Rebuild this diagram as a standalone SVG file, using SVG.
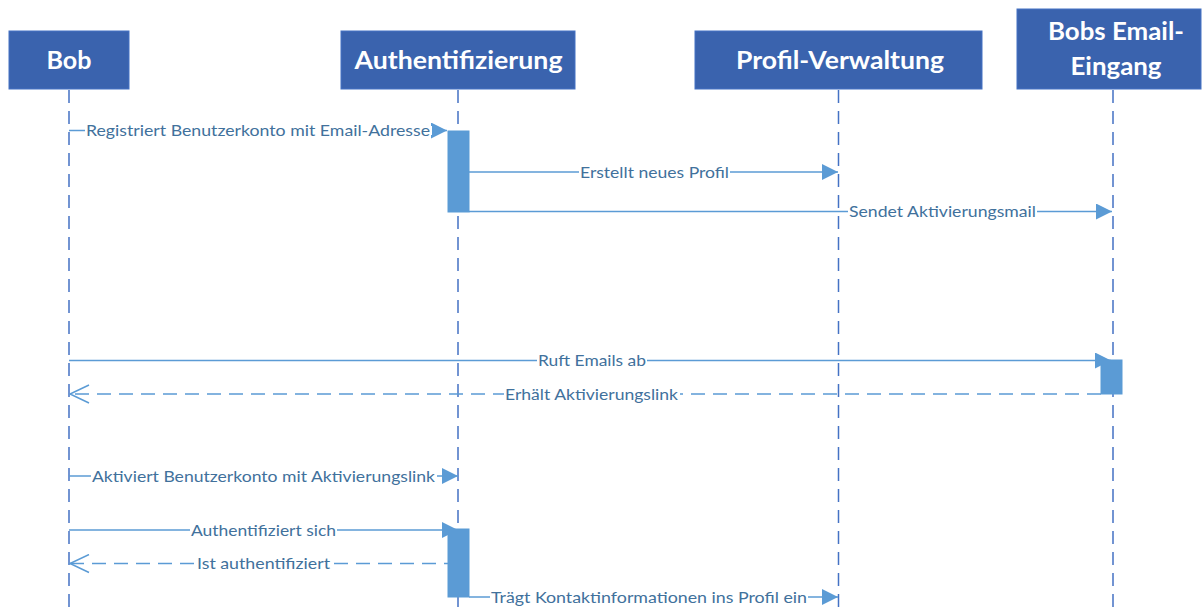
<svg xmlns="http://www.w3.org/2000/svg" width="1204" height="611" viewBox="0 0 1204 611">
<style>
.box{fill:#3A63AE;stroke:#4472C4;stroke-width:1}
.hdr{font-family:Lato,"Open Sans","Liberation Sans",sans-serif;font-weight:bold;font-size:24.5px;fill:#FFFFFF;text-anchor:middle}
.life{stroke:#4472C4;stroke-width:1.5;stroke-dasharray:13 8;fill:none}
.bar{fill:#5B9BD5;stroke:#5B9BD5;stroke-width:1}
.msg{stroke:#5B9BD5;stroke-width:1.5;fill:none}
.ret{stroke:#5B9BD5;stroke-width:1.5;fill:none;stroke-dasharray:14 8}
.lbl{font-family:Lato,"Open Sans","Liberation Sans",sans-serif;font-size:15px;fill:#41719C}
.bg{fill:#FFFFFF}
</style>
<defs>
<marker id="fill" markerUnits="userSpaceOnUse" viewBox="0 0 16 16" refX="16" refY="8" markerWidth="16" markerHeight="16" orient="auto">
<path d="M0,0 L16,8 L0,16 z" fill="#5B9BD5" stroke="none"/>
</marker>
<marker id="open" markerUnits="userSpaceOnUse" viewBox="-1 -1 22 20" refX="19" refY="9" markerWidth="22" markerHeight="20" orient="auto">
<path d="M0,0 L19,9 L0,18" fill="none" stroke="#5B9BD5" stroke-width="1.5" stroke-dasharray="none"/>
</marker>
</defs>
<rect width="1204" height="611" fill="#FFFFFF"/>

<g id="lifelines">
<line class="life" x1="69" y1="90" x2="69" y2="611"/>
<line class="life" x1="458" y1="90" x2="458" y2="611"/>
<line class="life" x1="838.5" y1="90" x2="838.5" y2="611"/>
<line class="life" x1="1113" y1="90" x2="1113" y2="611"/>
</g>

<g id="node-bob">
<rect class="box" x="9" y="31" width="120" height="58"/>
<text class="hdr" x="69" y="69" textLength="45" lengthAdjust="spacingAndGlyphs">Bob</text>
</g>
<g id="node-auth">
<rect class="box" x="341" y="31" width="234" height="58"/>
<text class="hdr" x="458.5" y="69" textLength="208" lengthAdjust="spacingAndGlyphs">Authentifizierung</text>
</g>
<g id="node-profil">
<rect class="box" x="695" y="31" width="287" height="58"/>
<text class="hdr" x="840" y="69" textLength="208" lengthAdjust="spacingAndGlyphs">Profil-Verwaltung</text>
</g>
<g id="node-email">
<rect class="box" x="1017" y="9" width="184" height="80"/>
<text class="hdr" x="1116" y="39.5" textLength="136" lengthAdjust="spacingAndGlyphs">Bobs Email-</text>
<text class="hdr" x="1116" y="75" textLength="91" lengthAdjust="spacingAndGlyphs">Eingang</text>
</g>

<g id="activations">
<rect class="bar" x="448" y="131" width="21" height="81"/>
<rect class="bar" x="1101" y="360" width="21" height="34"/>
<rect class="bar" x="448" y="529" width="21" height="68"/>
</g>

<g id="connectors">
<line class="msg" x1="69" y1="130.5" x2="447" y2="130.5" marker-end="url(#fill)"/>
<rect class="bg" x="85" y="126" width="347" height="9"/>
<text class="lbl" x="86" y="136" textLength="344" lengthAdjust="spacingAndGlyphs">Registriert Benutzerkonto mit Email-Adresse</text>

<line class="msg" x1="469" y1="172" x2="838" y2="172" marker-end="url(#fill)"/>
<rect class="bg" x="579" y="167.5" width="151" height="9"/>
<text class="lbl" x="580" y="177.5" textLength="149" lengthAdjust="spacingAndGlyphs">Erstellt neues Profil</text>

<line class="msg" x1="469" y1="211.5" x2="1112" y2="211.5" marker-end="url(#fill)"/>
<rect class="bg" x="848" y="207" width="189" height="9"/>
<text class="lbl" x="849" y="217" textLength="187" lengthAdjust="spacingAndGlyphs">Sendet Aktivierungsmail</text>

<line class="msg" x1="69" y1="360.5" x2="1111" y2="360.5" marker-end="url(#fill)"/>
<rect class="bg" x="537" y="356" width="110" height="9"/>
<text class="lbl" x="538" y="366" textLength="108" lengthAdjust="spacingAndGlyphs">Ruft Emails ab</text>

<line class="ret" x1="1101" y1="394" x2="70" y2="394" marker-end="url(#open)"/>
<rect class="bg" x="504" y="389.5" width="176" height="9"/>
<text class="lbl" x="505" y="399.5" textLength="173" lengthAdjust="spacingAndGlyphs">Erhält Aktivierungslink</text>

<line class="msg" x1="69" y1="476" x2="458" y2="476" marker-end="url(#fill)"/>
<rect class="bg" x="91" y="471.5" width="346" height="9"/>
<text class="lbl" x="92" y="481.5" textLength="343" lengthAdjust="spacingAndGlyphs">Aktiviert Benutzerkonto mit Aktivierungslink</text>

<line class="msg" x1="69" y1="530" x2="458" y2="530" marker-end="url(#fill)"/>
<rect class="bg" x="190" y="525.5" width="147" height="9"/>
<text class="lbl" x="191" y="535.5" textLength="145" lengthAdjust="spacingAndGlyphs">Authentifiziert sich</text>

<line class="ret" x1="458" y1="563.5" x2="70" y2="563.5" marker-end="url(#open)"/>
<rect class="bg" x="196" y="559" width="135" height="9"/>
<text class="lbl" x="197" y="569" textLength="133" lengthAdjust="spacingAndGlyphs">Ist authentifiziert</text>

<line class="msg" x1="469" y1="597" x2="838" y2="597" marker-end="url(#fill)"/>
<rect class="bg" x="490" y="592.5" width="318" height="9"/>
<text class="lbl" x="491" y="602.5" textLength="316" lengthAdjust="spacingAndGlyphs">Trägt Kontaktinformationen ins Profil ein</text>
</g>
</svg>
